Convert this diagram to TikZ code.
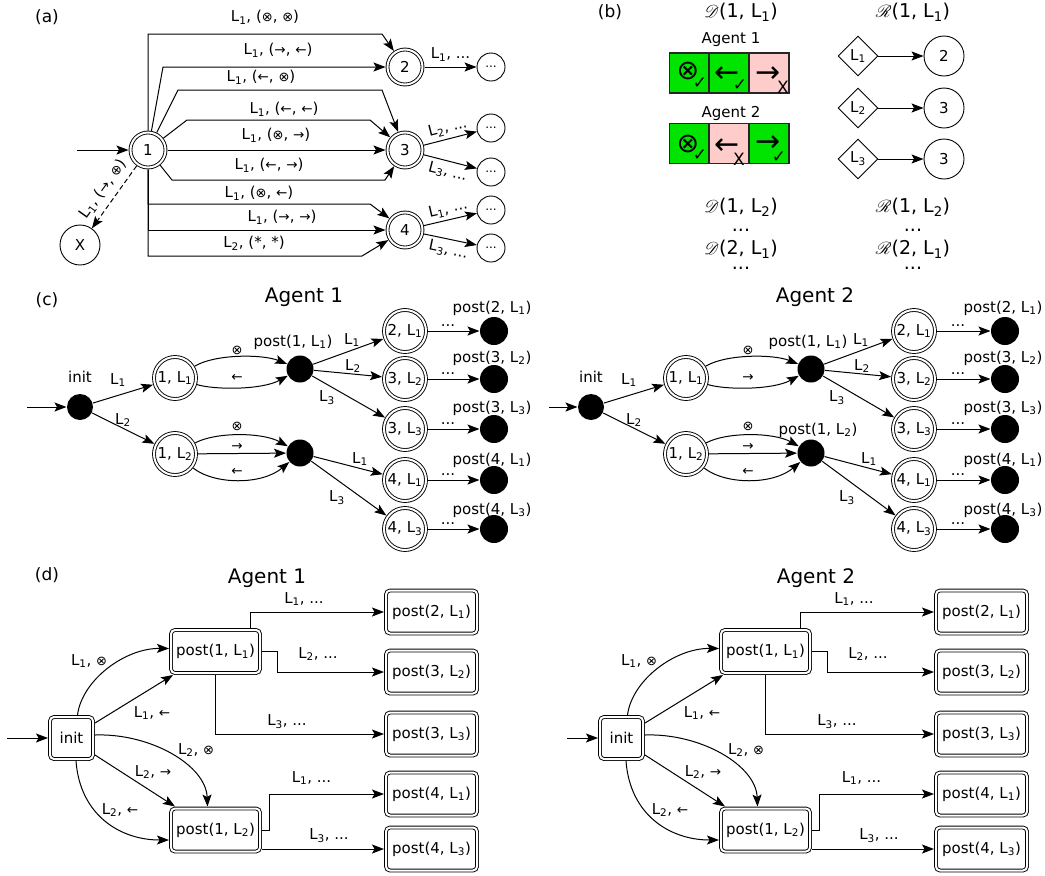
\documentclass[tikz,border=0pt]{standalone}
\usepackage{fontspec}
\setmainfont{DejaVu Sans}
\usepackage{mathrsfs}
\usetikzlibrary{arrows.meta,shapes.geometric}

\definecolor{okgreen}{RGB}{0,228,0}
\definecolor{nopink}{RGB}{255,204,204}

% label letters and the small action symbols
\newcommand{\Ls}[1]{L\textsubscript{#1}}
\newcommand{\lblfont}{\fontsize{15}{17}\selectfont}
\newcommand{\symot}{{\fontsize{13}{13}\selectfont ⊗}}
\newcommand{\symop}{{\fontsize{13}{13}\selectfont ⊕}}
\newcommand{\symla}{{\fontsize{13.5}{13}\selectfont ←}}
\newcommand{\symra}{{\fontsize{13.5}{13}\selectfont →}}

\tikzset{
  dstate/.style={draw, circle, double, double distance=2pt, line width=0.9pt, minimum size=35pt, inner sep=0pt, outer sep=2pt},
  bigstate/.style={dstate, minimum size=42pt},
  pcirc/.style={draw, circle, line width=0.9pt, minimum size=40pt, inner sep=0pt},
  scirc/.style={pcirc, minimum size=28pt, font=\fontsize{12}{12}\selectfont},
  blackdot/.style={circle, fill=black, minimum size=27pt, inner sep=0pt},
  dbox/.style={draw, rectangle, rounded corners=4pt, double, double distance=2pt, line width=0.9pt, minimum width=89pt, minimum height=43pt, inner sep=2pt, outer sep=2pt},
  dmdnode/.style={draw, diamond, line width=0.9pt, minimum size=40pt, inner sep=0pt},
  cellnode/.style={draw=black!85, line width=1.2pt, minimum width=40pt, minimum height=40pt, inner sep=0pt},
  bigsym/.style={inner sep=0pt, font=\fontsize{27}{27}\selectfont},
  arrsym/.style={inner sep=0pt, font=\fontsize{30}{30}\selectfont},
  marksym/.style={inner sep=0pt, font=\fontsize{17}{17}\selectfont},
  ttlnode/.style={font=\fontsize{17}{20}\selectfont},
  hdrnode/.style={font=\fontsize{19}{22}\selectfont},
  agtnode/.style={font=\fontsize{20}{24}\selectfont},
}

\begin{document}
\begin{tikzpicture}[x=1pt, y=-1pt, line width=1pt, font=\lblfont, >={Stealth[length=12pt, width=9pt, inset=2.5pt]}]
\useasboundingbox (0,0) rectangle (1045,876);

% ---------------- (a) joint automaton
\node[ttlnode] (ta) at (47,17) {(a)};
\node[dstate] (a1) at (148,150) {1};
\node[dstate] (a2) at (405,67) {2};
\node[dstate] (a3) at (405,150) {3};
\node[dstate] (a4) at (405,230) {4};
\node[pcirc] (ax) at (80,245) {X};
\node[scirc] (ae1) at (491,67) {...};
\node[scirc] (ae2) at (491,128) {...};
\node[scirc] (ae3) at (491,172) {...};
\node[scirc] (ae4) at (491,210) {...};
\node[scirc] (ae5) at (491,248) {...};
\coordinate (as) at (77,150);
\draw[->] (as) -- (a1);
\draw[->] (a1.north) |- (382,34) -- (a2) node at (265,17) {\Ls1, (\symot, \symot)};
\draw[->] (a1) -- (163,67) -- (a2) node at (278,50) {\Ls1, (\symra, \symla)};
\draw[->] (a1) -- (178,90) -- (382,90) -- (a3) node at (261,77) {\Ls1, (\symla, \symot)};
\draw[->] (a1) -- (187,120) -- (370,120) -- (a3) node at (284,109) {\Ls1, (\symla, \symla)};
\draw[->] (a1) -- (a3) node at (276,135) {\Ls1, (\symot, \symra)};
\draw[->] (a1) -- (172,180) -- (385,180) -- (a3) node at (269,165) {\Ls1, (\symla, \symra)};
\draw[->] (a1.south) |- (370,204) -- (a4) node at (259,193) {\Ls1, (\symot, \symla)};
\draw[->] (a1.south) |- (a4.west) node at (282,217) {\Ls1, (\symra, \symra)};
\draw[->] (a1.south) |- (362,256) -- (a4) node at (254,243) {\Ls2, (*, *)};
\draw[->, dash pattern=on 5pt off 3pt] (a1) -- (ax) node[midway, sloped, above=3pt] {\Ls1, (\symra, \symop)};
\draw[->] (a2) -- (ae1) node[midway, above=2pt] {\Ls1, ...};
\draw[->] (a3) -- (ae2) node[midway, sloped, above=0pt] {\Ls2, ...};
\draw[->] (a3) -- (ae3) node[midway, sloped, below=0pt] {\Ls3, ...};
\draw[->] (a4) -- (ae4) node[midway, sloped, above=0pt] {\Ls1, ...};
\draw[->] (a4) -- (ae5) node[midway, sloped, below=0pt] {\Ls3, ...};

% ---------------- (b) action masks and label successors
\node[ttlnode] (tb) at (610,12) {(b)};
\node[hdrnode] (bd1) at (741,12) {$\mathscr{D}$(1, \Ls1)};
\node[hdrnode] (br1) at (913,12) {$\mathscr{R}$(1, \Ls1)};
\node (bag1) at (731,40) {Agent 1};
\node[cellnode, fill=okgreen] (bc11) at (689.5,73) {};
\node[cellnode, fill=okgreen] (bc12) at (729,73) {};
\node[cellnode, fill=nopink] (bc13) at (769,73) {};
\node[bigsym] (bs11) at (688,71) {⊗};
\node[marksym] (bm11) at (700,83) {✓};
\node[arrsym] (bs12) at (727,75) {←};
\node[marksym] (bm12) at (740,85) {✓};
\node[arrsym] (bs13) at (768,75) {→};
\node[marksym] (bm13) at (783,87) {X};
\node (bag2) at (731,113) {Agent 2};
\node[cellnode, fill=okgreen] (bc21) at (689.5,143.5) {};
\node[cellnode, fill=nopink] (bc22) at (729,143.5) {};
\node[cellnode, fill=okgreen] (bc23) at (769,143.5) {};
\node[bigsym] (bs21) at (688,144) {⊗};
\node[marksym] (bm21) at (700,155) {✓};
\node[arrsym] (bs22) at (727,146.5) {←};
\node[marksym] (bm22) at (739,159) {X};
\node[arrsym] (bs23) at (768,144) {→};
\node[marksym] (bm23) at (779,157) {✓};
\node[dmdnode] (bl1) at (858,56) {\Ls1};
\node[dmdnode] (bl2) at (858,108) {\Ls2};
\node[dmdnode] (bl3) at (858,159) {\Ls3};
\node[pcirc] (bn1) at (944,56) {2};
\node[pcirc] (bn2) at (944,108) {3};
\node[pcirc] (bn3) at (944,159) {3};
\draw[->] (bl1) -- (bn1);
\draw[->] (bl2) -- (bn2);
\draw[->] (bl3) -- (bn3);
\node[hdrnode] (bd2) at (741,207) {$\mathscr{D}$(1, \Ls2)};
\node[hdrnode] (bdd1) at (741,230) {...};
\node[hdrnode] (bd3) at (741,249) {$\mathscr{D}$(2, \Ls1)};
\node[hdrnode] (bdd2) at (741,268) {...};
\node[hdrnode] (br2) at (913,207) {$\mathscr{R}$(1, \Ls2)};
\node[hdrnode] (brd1) at (913,230) {...};
\node[hdrnode] (br3) at (913,249) {$\mathscr{R}$(2, \Ls1)};
\node[hdrnode] (brd2) at (913,268) {...};

% ---------------- (c) per-agent automata
\node[ttlnode] (tc) at (47,300) {(c)};
\node[agtnode] (ca1) at (304,297) {Agent 1};
\node[blackdot, minimum size=26pt] (ci1) at (80,407) {};
\node (cil1) at (80,377) {init};
\coordinate (cs1) at (27,407);
\draw[->] (cs1) -- (ci1);
\node[bigstate] (c11) at (175,378) {1, \Ls1};
\node[bigstate] (c12) at (175,454) {1, \Ls2};
\node[blackdot] (cp11) at (300,369) {};
\node[blackdot] (cp12) at (300,453) {};
\node (cpl11) at (293,342) {post(1, \Ls1)};
\node[bigstate] (cq11) at (405,331) {2, \Ls1};
\node[bigstate] (cq12) at (405,379) {3, \Ls2};
\node[bigstate] (cq13) at (405,429) {3, \Ls3};
\node[bigstate] (cq14) at (405,480) {4, \Ls1};
\node[bigstate] (cq15) at (405,529) {4, \Ls3};
\node[blackdot, minimum size=28pt] (ce11) at (494,331) {};
\node[blackdot, minimum size=28pt] (ce12) at (494,379) {};
\node[blackdot, minimum size=28pt] (ce13) at (494,429) {};
\node[blackdot, minimum size=28pt] (ce14) at (494,480) {};
\node[blackdot, minimum size=28pt] (ce15) at (494,529) {};
\node (cel11) at (492,308) {post(2, \Ls1)};
\node (cel12) at (492,358) {post(3, \Ls2)};
\node (cel13) at (492,408) {post(3, \Ls3)};
\node (cel14) at (492,460) {post(4, \Ls1)};
\node (cel15) at (492,510) {post(4, \Ls3)};
\draw[->] (ci1) -- (c11) node at (118,380) {\Ls1};
\draw[->] (ci1) -- (c12) node at (123,420) {\Ls2};
\draw[->] (c11) .. controls (215,354) and (262,354) .. (cp11) node at (237,350) {\symot};
\draw[->] (c11) .. controls (215,390) and (262,390) .. (cp11) node at (237,378) {\symla};
\draw[->] (c12) .. controls (215,432) and (262,432) .. (cp12) node at (237,426) {\symot};
\draw[->] (c12) -- (cp12) node at (237,447) {\symra};
\draw[->] (c12) .. controls (215,485) and (262,485) .. (cp12) node at (237,472) {\symla};
\draw[->] (cp11) -- (cq11) node at (352,340) {\Ls1};
\draw[->] (cp11) -- (cq12) node at (353,366) {\Ls2};
\draw[->] (cp11) -- (cq13) node at (327,398) {\Ls3};
\draw[->] (cp12) -- (cq14) node at (360,459) {\Ls1};
\draw[->] (cp12) -- (cq15) node at (337,498) {\Ls3};
\draw[->] (cq11) -- (ce11) node at (448,326) {...};
\draw[->] (cq12) -- (ce12) node at (448,374) {...};
\draw[->] (cq13) -- (ce13) node at (448,424) {...};
\draw[->] (cq14) -- (ce14) node at (448,475) {...};
\draw[->] (cq15) -- (ce15) node at (448,524) {...};

\begin{scope}[xshift=511]
\node[agtnode] (ca2) at (304,297) {Agent 2};
\node[blackdot, minimum size=26pt] (ci2) at (80,407) {};
\node (cil2) at (80,377) {init};
\coordinate (cs2) at (38,407);
\draw[->] (cs2) -- (ci2);
\node[bigstate] (c21) at (175,378) {1, \Ls1};
\node[bigstate] (c22) at (175,454) {1, \Ls2};
\node[blackdot] (cp21) at (300,369) {};
\node[blackdot] (cp22) at (300,453) {};
\node (cpl21) at (297,342) {post(1, \Ls1)};
\node (cpl22) at (307,430) {post(1, \Ls2)};
\node[bigstate] (cq21) at (403,331) {2, \Ls1};
\node[bigstate] (cq22) at (403,379) {3, \Ls2};
\node[bigstate] (cq23) at (403,429) {3, \Ls3};
\node[bigstate] (cq24) at (403,480) {4, \Ls1};
\node[bigstate] (cq25) at (403,529) {4, \Ls3};
\node[blackdot, minimum size=28pt] (ce21) at (494,331) {};
\node[blackdot, minimum size=28pt] (ce22) at (494,379) {};
\node[blackdot, minimum size=28pt] (ce23) at (494,429) {};
\node[blackdot, minimum size=28pt] (ce24) at (494,480) {};
\node[blackdot, minimum size=28pt] (ce25) at (494,529) {};
\node (cel21) at (492,308) {post(2, \Ls1)};
\node (cel22) at (492,358) {post(3, \Ls2)};
\node (cel23) at (492,408) {post(3, \Ls3)};
\node (cel24) at (492,460) {post(4, \Ls1)};
\node (cel25) at (492,510) {post(4, \Ls3)};
\draw[->] (ci2) -- (c21) node at (118,380) {\Ls1};
\draw[->] (ci2) -- (c22) node at (123,420) {\Ls2};
\draw[->] (c21) .. controls (215,354) and (262,354) .. (cp21) node at (237,350) {\symot};
\draw[->] (c21) .. controls (215,390) and (262,390) .. (cp21) node at (237,378) {\symra};
\draw[->] (c22) .. controls (215,432) and (262,432) .. (cp22) node at (237,426) {\symot};
\draw[->] (c22) -- (cp22) node at (237,447) {\symra};
\draw[->] (c22) .. controls (215,485) and (262,485) .. (cp22) node at (237,472) {\symla};
\draw[->] (cp21) -- (cq21) node at (350,340) {\Ls1};
\draw[->] (cp21) -- (cq22) node at (351,366) {\Ls2};
\draw[->] (cp21) -- (cq23) node at (326,398) {\Ls3};
\draw[->] (cp22) -- (cq24) node at (358,459) {\Ls1};
\draw[->] (cp22) -- (cq25) node at (336,498) {\Ls3};
\draw[->] (cq21) -- (ce21) node at (447,326) {...};
\draw[->] (cq22) -- (ce22) node at (447,374) {...};
\draw[->] (cq23) -- (ce23) node at (447,424) {...};
\draw[->] (cq24) -- (ce24) node at (447,475) {...};
\draw[->] (cq25) -- (ce25) node at (447,524) {...};
\end{scope}

% ---------------- (d) reduced per-agent machines
\node[ttlnode] (td) at (47,575) {(d)};
\node[agtnode] (da1) at (267,578) {Agent 1};
\node[dbox, minimum width=43pt, minimum height=42pt] (di1) at (71.5,738) {init};
\coordinate (ds1) at (7,738);
\draw[->] (ds1) -- (di1);
\node[dbox] (dp11) at (215.5,651.5) {post(1, \Ls1)};
\node[dbox] (dp12) at (215.5,830) {post(1, \Ls2)};
\node[dbox, minimum width=91pt] (dq11) at (431.5,612) {post(2, \Ls1)};
\node[dbox, minimum width=91pt] (dq12) at (431.5,672) {post(3, \Ls2)};
\node[dbox, minimum width=91pt] (dq13) at (431.5,734) {post(3, \Ls3)};
\node[dbox, minimum width=91pt] (dq14) at (431.5,794) {post(4, \Ls1)};
\node[dbox, minimum width=91pt] (dq15) at (431.5,849) {post(4, \Ls3)};
\draw[->] ([xshift=6pt]di1.north) .. controls (82,680) and (125,648) .. ([yshift=3pt]dp11.west) node at (89,661) {\Ls1, \symot};
\draw[->] ([yshift=15pt]di1.east) -- ([xshift=4pt]dp11.south west) node at (152,713) {\Ls1, \symla};
\draw[->] ([yshift=3pt]di1.east) .. controls (150,733) and (206,765) .. ([xshift=-8pt]dp12.north) node at (196,750) {\Ls2, \symot};
\draw[->] ([yshift=-17pt]di1.east) -- ([xshift=6pt]dp12.north west) node at (153,772) {\Ls2, \symra};
\draw[->] ([xshift=4.5pt]di1.south) .. controls (80,815) and (120,840) .. ([yshift=-10pt]dp12.west) node at (120,810) {\Ls2, \symla};
\draw[->] ([xshift=34.5pt]dp11.north) |- (dq11.west) node at (304,599) {\Ls1, ...};
\draw[->] (dp11.east) -- ++(15,0) |- (dq12.west) node at (318,654) {\Ls2, ...};
\draw[->] (dp11.south) |- (dq13.west) node at (287,722) {\Ls3, ...};
\draw[->] (dp12.east) -- ++(7,0) |- (dq14.west) node at (311.5,778) {\Ls1, ...};
\draw[->] (dp12.east |- dq15.west) -- (dq15.west) node at (329,836) {\Ls3, ...};

\begin{scope}[xshift=550]
\node[agtnode] (da2) at (266,578) {Agent 2};
\node[dbox, minimum width=43pt, minimum height=42pt] (di2) at (71.5,738) {init};
\coordinate (ds2) at (17,738);
\draw[->] (ds2) -- (di2);
\node[dbox] (dp21) at (215.5,651.5) {post(1, \Ls1)};
\node[dbox] (dp22) at (215.5,830) {post(1, \Ls2)};
\node[dbox, minimum width=91pt] (dq21) at (431.5,612) {post(2, \Ls1)};
\node[dbox, minimum width=91pt] (dq22) at (431.5,672) {post(3, \Ls2)};
\node[dbox, minimum width=91pt] (dq23) at (431.5,734) {post(3, \Ls3)};
\node[dbox, minimum width=91pt] (dq24) at (431.5,794) {post(4, \Ls1)};
\node[dbox, minimum width=91pt] (dq25) at (431.5,849) {post(4, \Ls3)};
\draw[->] ([xshift=6pt]di2.north) .. controls (82,680) and (125,648) .. ([yshift=3pt]dp21.west) node at (89,661) {\Ls1, \symot};
\draw[->] ([yshift=15pt]di2.east) -- ([xshift=4pt]dp21.south west) node at (152,713) {\Ls1, \symla};
\draw[->] ([yshift=3pt]di2.east) .. controls (150,733) and (206,765) .. ([xshift=-8pt]dp22.north) node at (196,750) {\Ls2, \symot};
\draw[->] ([yshift=-17pt]di2.east) -- ([xshift=6pt]dp22.north west) node at (153,772) {\Ls2, \symra};
\draw[->] ([xshift=4.5pt]di2.south) .. controls (80,815) and (120,840) .. ([yshift=-10pt]dp22.west) node at (120,810) {\Ls2, \symla};
\draw[->] ([xshift=34.5pt]dp21.north) |- (dq21.west) node at (304,599) {\Ls1, ...};
\draw[->] (dp21.east) -- ++(15,0) |- (dq22.west) node at (318,654) {\Ls2, ...};
\draw[->] (dp21.south) |- (dq23.west) node at (287,722) {\Ls3, ...};
\draw[->] (dp22.east) -- ++(7,0) |- (dq24.west) node at (311.5,778) {\Ls1, ...};
\draw[->] (dp22.east |- dq25.west) -- (dq25.west) node at (329,836) {\Ls3, ...};
\end{scope}
\end{tikzpicture}
\end{document}
